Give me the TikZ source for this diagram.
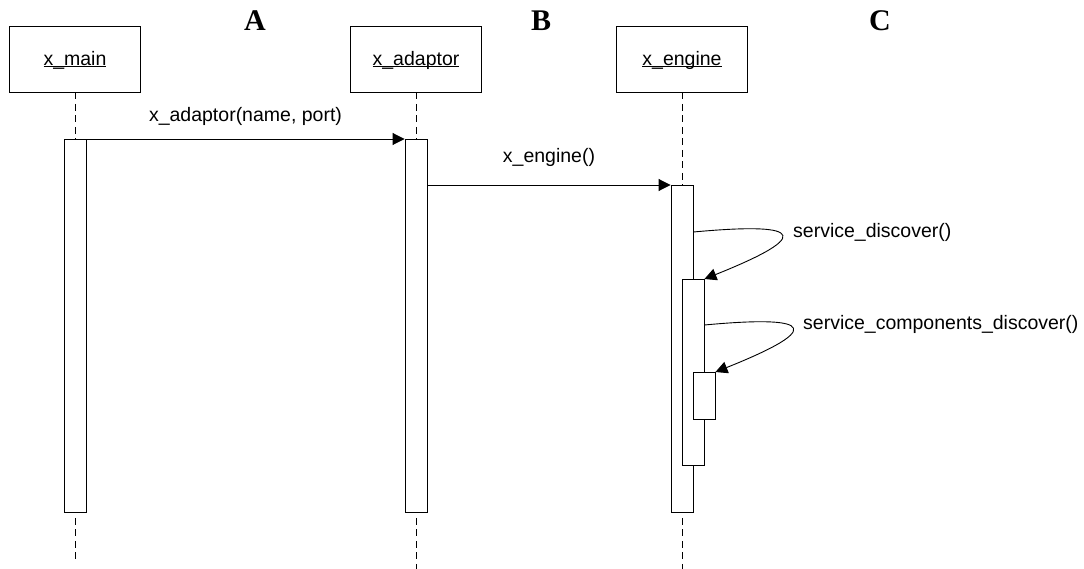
\documentclass[tikz,border=0pt]{standalone}
\usepackage{fontspec}
\setmainfont{Liberation Sans}
\newfontfamily\letterfont{Liberation Serif}
\usetikzlibrary{arrows.meta}
% underlined object name, rule just under the baseline
\newcommand{\objname}[1]{\setbox0=\hbox{#1}\leavevmode\rlap{\vrule height -0.4pt depth 1.4pt width \wd0}\box0}
\tikzset{
  objbox/.style={draw, line width=0.9pt, minimum width=131pt, minimum height=66pt,
    inner sep=0pt, text height=14pt, text depth=0pt, font=\fontsize{19.5}{22}\selectfont},
  lifeline/.style={line width=0.9pt, dash pattern=on 7pt off 4.5pt},
  actbar/.style={draw, fill=white, line width=0.9pt, minimum width=22pt, inner sep=0pt, anchor=north},
  msg/.style={line width=0.9pt, -{Triangle[length=12pt,width=12pt]}},
  msglabel/.style={font=\fontsize{19.5}{22}\selectfont, inner sep=0pt, anchor=base},
  zone/.style={font=\letterfont\bfseries\fontsize{30}{32}\selectfont, inner sep=0pt, anchor=base}
}
\begin{document}
\begin{tikzpicture}[x=1pt, y=-1pt]
\useasboundingbox (0,0) rectangle (1084,569);

% zone letters
\node[zone] (zA) at (255,31) {A};
\node[zone] (zB) at (541,31) {B};
\node[zone] (zC) at (880,31) {C};

% objects
\node[objbox] (main) at (75,59) {\objname{x\_main}};
\node[objbox] (adaptor) at (416,59) {\objname{x\_adaptor}};
\node[objbox] (engine) at (682,59) {\objname{x\_engine}};

% lifeline ends
\coordinate (mainend) at (75,563);
\coordinate (adaptorend) at (416,569);
\coordinate (engineend) at (682,569);

\draw[lifeline] (main.south) -- (mainend);
\draw[lifeline] (adaptor.south) -- (adaptorend);
\draw[lifeline] (engine.south) -- (engineend);

% activation bars
\node[actbar, minimum height=373pt] (mainbar) at (75,139) {};
\node[actbar, minimum height=373pt] (adaptorbar) at (416,139) {};
\node[actbar, minimum height=327pt] (enginebar) at (682,185) {};
\node[actbar, minimum height=186pt] (discbar) at (693,279) {};
\node[actbar, minimum height=47pt] (compbar) at (704,372) {};

% calls
\draw[msg] (mainbar.north east) -- (adaptorbar.north west);
\node[msglabel] (m1) at (245.5,122) {x\_adaptor(name, port)};

\draw[msg] (adaptorbar.east |- enginebar.north) -- (enginebar.north west);
\node[msglabel] (m2) at (549,162.5) {x\_engine()};

% self calls
\coordinate (s1) at (enginebar.east |- 0,232);
\draw[msg] (s1) .. controls (780,224) and (832,228) .. (discbar.north east);
\node[msglabel, anchor=base west] (m3) at (793,238) {service\_discover()};

\coordinate (s2) at (discbar.east |- 0,325);
\draw[msg] (s2) .. controls (790,317) and (843,321) .. (compbar.north east);
\node[msglabel, anchor=base west] (m4) at (803,330) {service\_components\_discover()};
\end{tikzpicture}
\end{document}
